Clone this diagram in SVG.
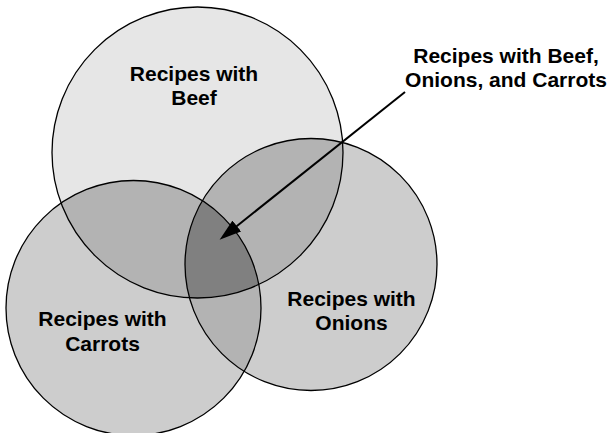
<svg xmlns="http://www.w3.org/2000/svg" width="611" height="433" viewBox="0 0 611 433">
<style>
.outline{fill:none;stroke:#000;stroke-width:1.3}
.lbl{font-family:"Liberation Sans",Arial,Helvetica,sans-serif;font-weight:bold;font-size:21px;fill:#000;text-anchor:middle}
.pair{fill:#b3b3b3}
</style>
<defs>
<clipPath id="clipBeef"><circle cx="197.5" cy="152.5" r="145.5"/></clipPath>
<clipPath id="clipCarrots"><circle cx="133.5" cy="308" r="127.5"/></clipPath>
<clipPath id="clipOnions"><circle cx="311" cy="264.5" r="126"/></clipPath>
<marker id="arrow" viewBox="0 0 22 14" refX="1" refY="7" markerWidth="22" markerHeight="14" markerUnits="userSpaceOnUse" orient="auto">
<path d="M0,0 L22,7 L0,14 z" fill="#000"/>
</marker>
</defs>
<rect width="611" height="433" fill="#fff"/>
<g id="beef">
<circle cx="197.5" cy="152.5" r="145.5" fill="#e6e6e6"/>
</g>
<g id="carrots">
<circle cx="133.5" cy="308" r="127.5" fill="#cdcdcd"/>
</g>
<g id="onions">
<circle cx="311" cy="264.5" r="126" fill="#cdcdcd"/>
</g>
<g id="overlaps">
<circle cx="197.5" cy="152.5" r="145.5" class="pair" clip-path="url(#clipCarrots)"/>
<circle cx="197.5" cy="152.5" r="145.5" class="pair" clip-path="url(#clipOnions)"/>
<circle cx="133.5" cy="308" r="127.5" class="pair" clip-path="url(#clipOnions)"/>
<g clip-path="url(#clipOnions)">
<circle cx="197.5" cy="152.5" r="145.5" fill="#808080" clip-path="url(#clipCarrots)"/>
</g>
</g>
<g id="outlines">
<circle cx="197.5" cy="152.5" r="145.5" class="outline"/>
<circle cx="133.5" cy="308" r="127.5" class="outline"/>
<circle cx="311" cy="264.5" r="126" class="outline"/>
</g>
<g id="connectors">
<line x1="405" y1="92" x2="236" y2="226.7" stroke="#000" stroke-width="2" marker-end="url(#arrow)"/>
</g>
<g id="label-beef">
<text class="lbl" x="194" y="81">Recipes with</text>
<text class="lbl" x="194" y="105">Beef</text>
</g>
<g id="label-carrots">
<text class="lbl" x="102.5" y="326">Recipes with</text>
<text class="lbl" x="102.5" y="351">Carrots</text>
</g>
<g id="label-onions">
<text class="lbl" x="351.5" y="306">Recipes with</text>
<text class="lbl" x="351.5" y="330">Onions</text>
</g>
<g id="label-all">
<text class="lbl" x="506" y="63">Recipes with Beef,</text>
<text class="lbl" x="506" y="86.5">Onions, and Carrots</text>
</g>
</svg>
